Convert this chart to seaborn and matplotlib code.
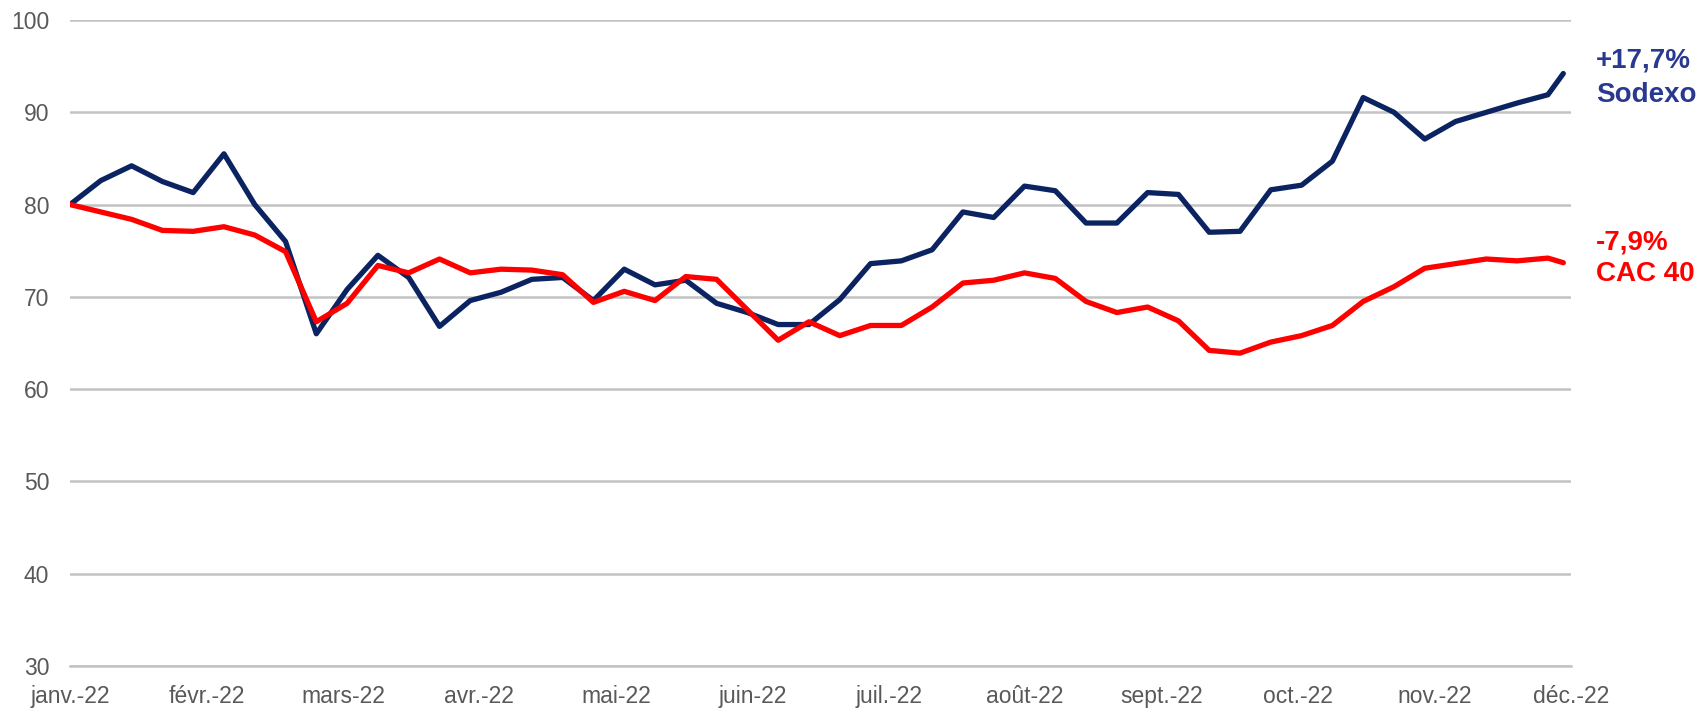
import matplotlib

matplotlib.use("Agg")

import numpy as np
import pandas as pd
import matplotlib.pyplot as plt
import seaborn as sns

# weekly index (base 80 at start of year), last point is mid-week end of Nov
weeks = list(range(49)) + [48.5]

sodexo = [80.0, 82.6, 84.2, 82.5, 81.3, 85.5, 80.0, 76.0, 66.0, 70.8,
          74.5, 72.1, 66.8, 69.6, 70.5, 71.9, 72.1, 69.6, 73.0, 71.3,
          71.8, 69.3, 68.3, 67.0, 67.0, 69.7, 73.6, 73.9, 75.1, 79.2,
          78.6, 82.0, 81.5, 78.0, 78.0, 81.3, 81.1, 77.0, 77.1, 81.6,
          82.1, 84.7, 91.6, 90.0, 87.1, 89.0, 90.0, 91.0, 91.9, 94.2]

cac40 = [80.0, 79.2, 78.4, 77.2, 77.1, 77.6, 76.7, 74.9, 67.3, 69.3,
         73.4, 72.6, 74.1, 72.6, 73.0, 72.9, 72.4, 69.4, 70.6, 69.6,
         72.2, 71.9, 68.6, 65.3, 67.3, 65.8, 66.9, 66.9, 68.9, 71.5,
         71.8, 72.6, 72.0, 69.5, 68.3, 68.9, 67.4, 64.2, 63.9, 65.1,
         65.8, 66.9, 69.5, 71.1, 73.1, 73.6, 74.1, 73.9, 74.2, 73.7]

month_labels = ['janv.-22', 'févr.-22', 'mars-22', 'avr.-22', 'mai-22', 'juin-22',
                'juil.-22', 'août-22', 'sept.-22', 'oct.-22', 'nov.-22', 'déc.-22']

sodexo_label = ['+17,7%', 'Sodexo']
cac_label = ['-7,9%', 'CAC 40']

NAVY = '#0B2461'
NAVY_TXT = '#2A3990'
RED = '#FF0000'
GRID = '#C3C3C3'
TXT = '#595959'

df = pd.DataFrame({'week': weeks, 'Sodexo': sodexo, 'CAC 40': cac40})

sns.set_style("white")
plt.rcParams['font.family'] = ['Liberation Sans', 'DejaVu Sans']

fig = plt.figure(figsize=(17, 7.09), dpi=100)
ax = fig.add_axes([70 / 1700, 1 - 666 / 709, (1571 - 70) / 1700, (666 - 20) / 709])

sns.lineplot(data=df, x='week', y='Sodexo', color=NAVY, linewidth=3.8, ax=ax, zorder=3)
sns.lineplot(data=df, x='week', y='CAC 40', color=RED, linewidth=3.8, ax=ax, zorder=4)

x_end = 48.75
ax.set_xlim(0, x_end)
ax.set_ylim(30, 100)
ax.set_yticks(np.arange(30, 101, 10))
ax.set_xticks(np.linspace(0, x_end, 12))
ax.set_xticklabels(month_labels)

ax.grid(axis='y', color=GRID, linewidth=1.8, zorder=0)
ax.grid(axis='x', visible=False)
for side in ['top', 'right', 'left']:
    ax.spines[side].set_visible(False)
ax.spines['bottom'].set_color(GRID)
ax.spines['bottom'].set_linewidth(1.8)

ax.tick_params(axis='y', length=0, labelsize=16.5, labelcolor=TXT, pad=15)
ax.tick_params(axis='x', length=6, width=1.2, color=GRID, labelsize=16.5,
               labelcolor=TXT, pad=8, direction='out')
ax.set_xlabel('')
ax.set_ylabel('')

# end-of-line labels
fig.text(1596 / 1700, 1 - 68 / 709, sodexo_label[0], color=NAVY_TXT, fontsize=20,
         fontweight='bold', va='baseline', ha='left')
fig.text(1596 / 1700, 1 - 102 / 709, sodexo_label[1], color=NAVY_TXT, fontsize=20,
         fontweight='bold', va='baseline', ha='left')
fig.text(1596 / 1700, 1 - 249 / 709, cac_label[0], color=RED, fontsize=20,
         fontweight='bold', va='baseline', ha='left')
fig.text(1596 / 1700, 1 - 281 / 709, cac_label[1], color=RED, fontsize=20,
         fontweight='bold', va='baseline', ha='left')

fig.savefig('out.png', dpi=100, facecolor='white')
